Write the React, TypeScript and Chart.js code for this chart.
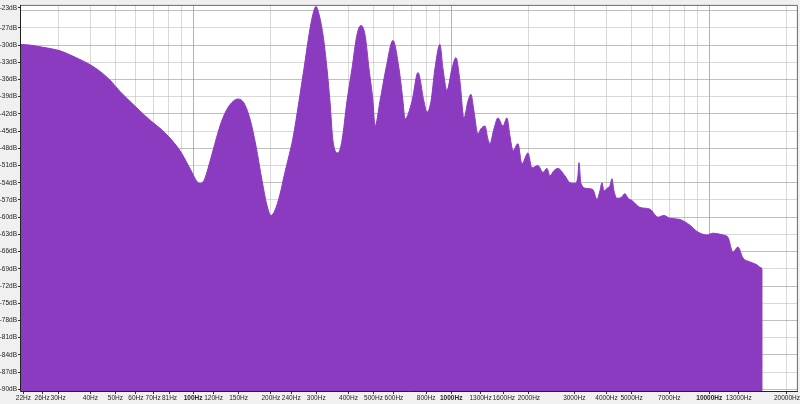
import React, { useEffect, useRef } from "react";
import { Chart, registerables } from "chart.js";

Chart.register(...registerables);

// Spectrum (frequency in Hz, level in dB)
const FREQ_HZ = [
  21.5, 23.3, 25.5, 27.9, 30.5, 33.3, 36.4, 39.8, 43.6, 47.6,
  52.1, 56.9, 62.3, 68.1, 74.4, 81.3, 88.9, 93.8, 99.0, 103.5,
  106.3, 110.2, 114.2, 119.4, 127.1, 134.1, 141.4, 149.2, 157.4, 166.1,
  175.2, 184.9, 193.2, 200.3, 207.6, 217.1, 226.0, 235.2, 243.8, 257.1, 268.9,
  281.2, 291.3, 299.2, 307.3, 318.5, 330.1, 339.0, 348.2, 364.1, 377.3,
  394.5, 412.6, 431.4, 447.1, 463.4, 480.2, 497.6, 506.6, 529.6, 558.7,
  594.6, 627.6, 650.4, 662.1, 704.6, 743.3, 784.1, 805.5, 835.0, 865.0,
  904.5, 929.0, 962.7, 1006.7, 1043.3, 1081.2, 1120.5, 1161.1, 1192.6, 1224.9,
  1269.4, 1304.0, 1351.3, 1387.9, 1412.8, 1464.2, 1517.4, 1586.7, 1644.3, 1688.8,
  1734.9, 1813.7, 1879.6, 1983.2, 2055.2, 2168.0, 2267.0, 2349.6, 2413.2, 2500.8,
  2591.5, 2758.5, 2884.5, 3016.3, 3098, 3126, 3182, 3357, 3541, 3670,
  3770, 3838, 3907, 4013, 4122, 4196, 4272, 4387, 4547, 4712,
  4840, 5015, 5386, 5890, 6325, 6672, 7040, 7696, 8414, 9039,
  9792, 10332, 11296, 11812, 12348, 12912, 13501, 14371, 15295, 15852,
  16000, 16010,
];

const LEVEL_DB = [
  -29.9, -30.0, -30.3, -30.6, -31.0, -31.7, -32.5, -33.4, -34.6, -36.1,
  -38.1, -39.8, -41.5, -43.1, -44.5, -46.2, -48.4, -50.2, -52.2, -53.8,
  -54.1, -53.6, -51.5, -48.4, -44.1, -41.5, -40.0, -39.4, -40.1, -42.9,
  -47.6, -53.6, -57.9, -59.7, -58.8, -56.0, -52.5, -49.3, -46.2, -39.8, -34.1,
  -28.2, -24.6, -23.3, -24.6, -28.2, -34.1, -39.8, -46.7, -48.8, -46.7,
  -39.8, -34.1, -28.2, -26.6, -28.2, -34.1, -39.8, -44.1, -39.8, -34.1,
  -29.2, -34.1, -39.8, -42.9, -39.8, -34.8, -39.8, -41.7, -39.8, -34.1,
  -29.9, -34.1, -37.9, -34.1, -32.2, -36.3, -42.7, -39.8, -38.6, -41.5,
  -45.5, -44.6, -44.1, -46.4, -47.2, -44.6, -42.7, -44.1, -42.7, -45.8,
  -48.4, -47.2, -50.7, -48.8, -51.4, -51.0, -52.2, -51.5, -52.8, -51.9,
  -51.5, -52.8, -54.0, -54.1, -52.8, -50.5, -54.1, -55.0, -55.2, -56.9,
  -55.4, -54.0, -55.4, -55.0, -54.5, -53.3, -55.4, -56.7, -56.6, -55.9,
  -56.7, -57.1, -58.3, -58.6, -60.0, -59.7, -60.2, -60.4, -61.4, -62.6,
  -63.1, -62.8, -63.1, -63.5, -66.1, -65.2, -67.1, -67.8, -68.3, -68.8,
  -69.0, -140,
];

const X_LABELS = [
  22, 26, 30, 40, 50, 60, 70, 81, 100, 120, 150, 200, 240, 300, 400, 500, 600,
  800, 1000, 1300, 1600, 2000, 3000, 4000, 5000, 7000, 10000, 13000, 20000,
];
const X_BOLD = [100, 1000, 10000];
const X_GRID = [
  30, 40, 50, 60, 70, 80, 90, 100, 200, 300, 400, 500, 600, 700, 800, 900,
  1000, 2000, 3000, 4000, 5000, 6000, 7000, 8000, 9000, 10000, 20000,
];
const X_MAJOR = [100, 1000, 10000];

const Y_TOP_LABEL = -23.5;
const Y_TOP_TEXT = "-23dB";
const Y_LABELS = [
  -27, -30, -33, -36, -39, -42, -45, -48, -51, -54, -57, -60, -63, -66, -69,
  -72, -75, -78, -81, -84, -87, -90,
];
const Y_GRID_EXTRA = [-24];

const X_MIN = 21.53;
const X_MAX = 22050;
const Y_MIN = -90.3;
const Y_MAX = -23;

const FILL = "#8a3bbf";
const FONT = '"Liberation Sans", Arial, sans-serif';

export default function App() {
  const ref = useRef<HTMLCanvasElement | null>(null);

  useEffect(() => {
    if (!ref.current) return;
    const xLabelSet = new Set(X_LABELS);
    const xGridSet = new Set(X_GRID);
    const xMajorSet = new Set(X_MAJOR);
    const xBoldSet = new Set(X_BOLD);
    const yLabelSet = new Set(Y_LABELS);

    const bgPlugin = {
      id: "bg",
      beforeDraw(chart: any) {
        const { ctx, chartArea: a, width, height } = chart;
        ctx.save();
        ctx.fillStyle = "#f0f0f0";
        ctx.fillRect(0, 0, width, height);
        ctx.fillStyle = "#ffffff";
        ctx.fillRect(a.left, a.top, a.right - a.left, a.bottom - a.top);
        ctx.restore();
      },
      afterDraw(chart: any) {
        const { ctx, chartArea: a } = chart;
        ctx.save();
        ctx.strokeStyle = "#6a6a6a";
        ctx.lineWidth = 1;
        ctx.beginPath();
        ctx.moveTo(a.left, a.top + 0.5);
        ctx.lineTo(a.right - 0.5, a.top + 0.5);
        ctx.lineTo(a.right - 0.5, a.bottom);
        ctx.stroke();
        ctx.strokeStyle = "#222";
        ctx.beginPath();
        ctx.moveTo(a.left - 0.5, a.top);
        ctx.lineTo(a.left - 0.5, a.bottom + 0.5);
        ctx.lineTo(a.right, a.bottom + 0.5);
        ctx.stroke();
        ctx.restore();
      },
    };

    const data = FREQ_HZ.map((f, i) => ({ x: f, y: LEVEL_DB[i] }));

    const chart = new Chart(ref.current, {
      type: "line",
      data: {
        datasets: [
          {
            data,
            borderColor: FILL,
            backgroundColor: FILL,
            borderWidth: 1,
            fill: "start",
            pointRadius: 0,
            cubicInterpolationMode: "monotone",
            clip: 0,
          } as any,
        ],
      },
      plugins: [bgPlugin],
      options: {
        responsive: false,
        animation: false,
        layout: { padding: { top: 3, right: 2, left: 0, bottom: 0 } },
        plugins: { legend: { display: false }, tooltip: { enabled: false } },
        scales: {
          x: {
            type: "logarithmic",
            min: X_MIN,
            max: X_MAX,
            z: 1,
            border: { display: false },
            afterBuildTicks(scale: any) {
              const vals = Array.from(new Set([...X_LABELS, ...X_GRID])).sort(
                (a, b) => a - b
              );
              scale.ticks = vals.map((v) => ({ value: v }));
            },
            afterFit(scale: any) {
              scale.height = 13;
            },
            grid: {
              drawTicks: true,
              tickLength: 3,
              lineWidth: 1,
              color: (ctx: any) => {
                const v = ctx.tick?.value;
                if (xMajorSet.has(v)) return "rgba(130,130,130,0.6)";
                if (xGridSet.has(v)) return "rgba(185,185,185,0.55)";
                return "rgba(0,0,0,0)";
              },
              tickColor: (ctx: any) =>
                xLabelSet.has(ctx.tick?.value) ? "#333" : "rgba(0,0,0,0)",
            },
            ticks: {
              autoSkip: false,
              maxRotation: 0,
              minRotation: 0,
              padding: 0,
              color: "#222",
              font: (ctx: any) => ({
                family: FONT,
                size: 6.5,
                weight: xBoldSet.has(ctx.tick?.value) ? "bold" : "normal",
              }),
              callback: (v: any) => (xLabelSet.has(v) ? `${v}Hz` : ""),
            },
          },
          y: {
            type: "linear",
            min: Y_MIN,
            max: Y_MAX,
            z: 1,
            border: { display: false },
            afterBuildTicks(scale: any) {
              const vals = [Y_TOP_LABEL, ...Y_GRID_EXTRA, ...Y_LABELS];
              scale.ticks = vals.map((v) => ({ value: v }));
            },
            afterFit(scale: any) {
              scale.width = 21;
            },
            grid: {
              drawTicks: true,
              tickLength: 3,
              lineWidth: 1,
              color: (ctx: any) => {
                const v = ctx.tick?.value;
                if (v === Y_TOP_LABEL) return "rgba(0,0,0,0)";
                if (v % 6 === 0) return "rgba(150,150,150,0.6)";
                return "rgba(185,185,185,0.55)";
              },
              tickColor: (ctx: any) => {
                const v = ctx.tick?.value;
                return v === Y_TOP_LABEL || yLabelSet.has(v)
                  ? "#333"
                  : "rgba(0,0,0,0)";
              },
            },
            ticks: {
              autoSkip: false,
              padding: 1,
              color: "#222",
              font: { family: FONT, size: 6.5 },
              callback: (v: any) => {
                if (v === Y_TOP_LABEL) return Y_TOP_TEXT;
                return yLabelSet.has(v) ? `${v}dB` : "";
              },
            },
          },
        },
      } as any,
    });
    return () => chart.destroy();
  }, []);

  return (
    <div style={{ position: "absolute", left: 0, top: 0, width: 800, height: 404 }}>
      <canvas ref={ref} width={800} height={404} />
    </div>
  );
}
